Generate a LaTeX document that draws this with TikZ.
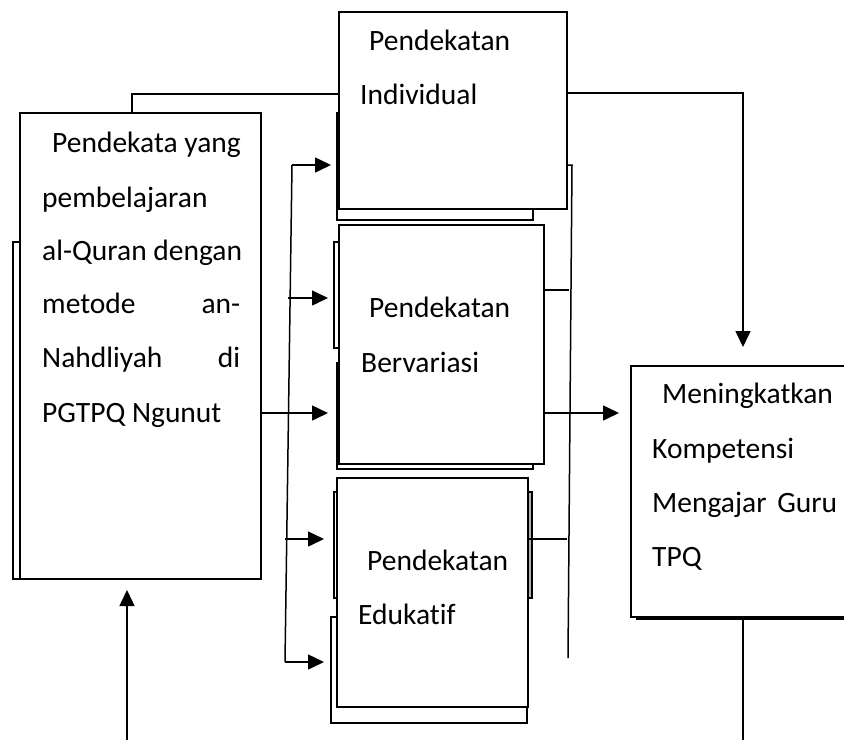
\documentclass[tikz,border=0pt]{standalone}
\usepackage{fontspec}
\setmainfont{Carlito}[Ligatures=NoCommon]
\usetikzlibrary{arrows.meta}

% rectangle node placed by its top-left corner: name, x, y, width, height
\newcommand\boxat[6][]{%
  \node[boxframe,#1,anchor=north west,minimum width=#5pt,minimum height=#6pt] (#2) at (#3,#4) {};}

\begin{document}
\begin{tikzpicture}[x=1pt,y=-1pt,
  boxframe/.style={draw,line width=1.6pt,fill=white,inner sep=0pt,outer sep=0pt},
  wire/.style={line width=1.5pt},
  flow/.style={wire,-{Triangle[length=16pt,width=15pt]}},
  txt/.style={anchor=base west,inner sep=0pt,font=\fontsize{29.5pt}{34pt}\selectfont},
]
\useasboundingbox (0,0) rectangle (844,740);
\clip (0,0) rectangle (844,740);

% stacked backing sheets
\boxat{Lback}{13}{242}{7}{337}
\boxat{Iback}{337}{113}{196}{107}
\boxat{Bstrip}{334}{242}{5}{106}
\boxat{Bback}{337}{363}{196}{106}
\boxat{Estrip}{334}{492}{4}{106}
\boxat[fill=gray!60]{Erstrip}{528}{492}{4}{106}
\boxat{Eback}{331}{617}{196}{106}
\boxat{Rback}{637}{370}{240}{249}

% main boxes
\boxat{L}{20}{113}{241}{466}
\boxat{I}{339}{12}{228}{197}
\boxat{B}{339}{225}{205}{239}
\boxat{E}{337}{478}{191}{229}
\boxat{R}{631}{366}{240}{251}

% texts
\node[txt] (l1) at (52,152) {Pendekata yang};
\node[txt] (l2) at (42,207) {pembelajaran};
\node[txt] (l3) at (42,260) {al-Quran dengan};
\node[txt] (l4) at (42,313) {\hbox to 198pt{metode\hfill an-}};
\node[txt] (l5) at (42,367) {\hbox to 198pt{Nahdliyah\hfill di}};
\node[txt] (l6) at (42,422) {PGTPQ Ngunut};

\node[txt] (i1) at (369,50) {Pendekatan};
\node[txt] (i2) at (360,104) {Individual};

\node[txt] (b1) at (369,317) {Pendekatan};
\node[txt] (b2) at (361,372) {Bervariasi};

\node[txt] (e1) at (367,570) {Pendekatan};
\node[txt] (e2) at (358,624) {Edukatif};

\node[txt] (r1) at (662,403) {Meningkatkan};
\node[txt] (r2) at (652,458) {Kompetensi};
\node[txt] (r3) at (652,512) {\hbox to 185pt{Mengajar\hfill Guru}};
\node[txt] (r4) at (652,566) {TPQ};

% connectors
\coordinate (tl) at (132,94);
\draw[wire] (tl |- L.north) -- (tl) -- (tl -| I.west);

\coordinate (tr) at (743,93);
\draw[flow,shorten >=19pt] (tr -| I.east) -- (tr) -- (tr |- R.north);

\coordinate (br) at (743,740);
\draw[wire] (br |- Rback.south) -- (br);

\coordinate (bl) at (127,740);
\draw[flow,shorten >=11pt] (bl) -- (bl |- L.south);

% right collector line
\coordinate (rv1) at (572,165);
\coordinate (rv2) at (568,658);
\draw[wire] (rv1 -| I.east) -- (rv1) -- (rv2);
\coordinate (s1) at (569,290);
\draw[wire] (s1 -| B.east) -- (s1);
\coordinate (s3) at (567,539);
\draw[wire] (s3 -| E.east) -- (s3);

% middle row
\coordinate (m) at (0,413);
\draw[flow,shorten >=9pt] (m -| L.east) -- (m -| Bback.west);
\draw[flow,shorten >=12pt] (m -| B.east) -- (m -| R.west);

% left distribution line
\coordinate (d1) at (292,165);
\coordinate (d2) at (288,298);
\coordinate (d4) at (285,539);
\coordinate (d5) at (285,662);
\draw[wire] (d1) -- (d5);
\draw[flow,shorten >=6pt] (d1) -- (d1 -| Iback.west);
\draw[flow,shorten >=6pt] (d2) -- (d2 -| Bstrip.west);
\draw[flow,shorten >=10pt] (d4) -- (d4 -| Estrip.west);
\draw[flow,shorten >=7pt] (d5) -- (d5 -| Eback.west);
\end{tikzpicture}
\end{document}
